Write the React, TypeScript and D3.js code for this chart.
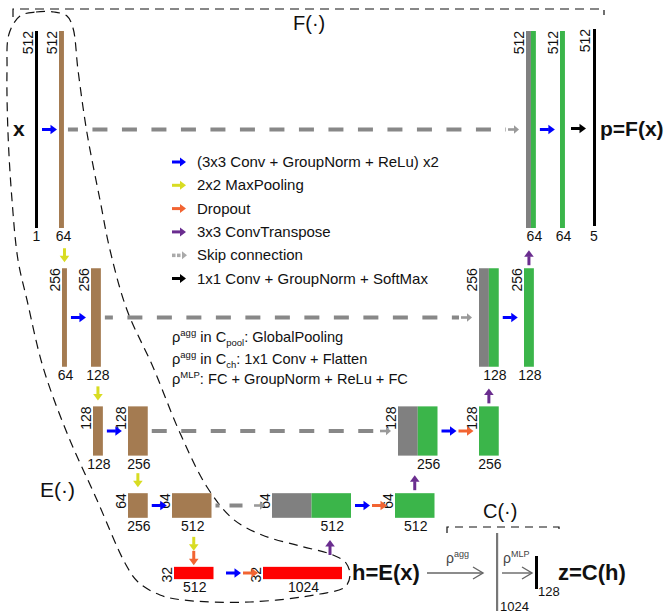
import React from "react";
import * as d3 from "d3";

// ---------- data ----------
const levelSpatial = [512, 256, 128, 64, 32];
const encoderInLabels = ["1", "64", "128", "256", "512"];
const encoderInChannels = [1, 64, 128, 256, 512];
const encoderOutChannels = [64, 128, 256, 512, 1024];
const decoderConcatChannels = [64, 128, 256, 512];
const decoderOutChannels = [64, 128, 256, 512];
const outputClasses = 5;
const latentDim = 1024;
const embedDim = 128;
const legendLabels = [
  "(3x3 Conv + GroupNorm + ReLu) x2",
  "2x2 MaxPooling",
  "Dropout",
  "3x3 ConvTranspose",
  "Skip connection",
  "1x1 Conv + GroupNorm + SoftMax",
];
const legendKinds = ["blue", "yellow", "orange", "purple", "skip", "black"];

// ---------- styling / layout ----------
const COL: Record<string, string> = {
  blue: "#0000ff",
  yellow: "#d8dc22",
  orange: "#f26432",
  purple: "#6a2d8f",
  black: "#000000",
  skip: "#888888",
  skipHead: "#9a9a9a",
  brown: "#a47b51",
  green: "#3bb54a",
  gray: "#808080",
  red: "#ff0000",
};
const FONT = "'Liberation Sans', Arial, Helvetica, sans-serif";

const wScale = d3.scaleLinear().domain([0, 1024]).range([0, 79]);
const hScale = d3.scaleLinear().domain([0, 512]).range([0, 197]);
const levelY = [129.5, 317.5, 431, 505.5, 573];
const encX = [
  [35, 59],
  [62, 91],
  [93, 128],
  [128, 172],
  [174, 263],
];
const decX = [
  [526, 560],
  [479, 524],
  [398, 479],
  [272, 395],
];
const outLineX = 593;

const eOutline: [number, number][] = [
  [20, 16], [36, 12], [54, 12], [67, 16], [73, 28], [78, 70], [87, 133],
  [100, 200], [110, 250], [127, 310], [153, 367], [180, 433], [207, 487],
  [233, 519], [262, 535], [300, 546], [333, 555], [346, 563], [350, 575],
  [345, 587], [320, 594], [250, 602], [183, 600], [160, 595], [138, 582],
  [125, 563], [97, 500], [67, 433], [43, 367], [27, 300], [18, 260],
  [12, 200], [8, 133], [7, 70], [9, 34],
];

function Arrow({ x1, y1, x2, y2, color, sw = 3, hl = 6.5, hw = 4.8 }: any) {
  const dx = x2 - x1, dy = y2 - y1;
  const len = Math.hypot(dx, dy);
  const ux = dx / len, uy = dy / len;
  const px = -uy, py = ux;
  const bx = x2 - ux * hl, by = y2 - uy * hl;
  const pts = [
    [x2, y2],
    [bx + px * hw, by + py * hw],
    [bx - px * hw, by - py * hw],
  ];
  return (
    <g>
      <line x1={x1} y1={y1} x2={bx + ux * 0.5} y2={by + uy * 0.5} stroke={color} strokeWidth={sw} />
      <polygon points={pts.map((p) => p.join(",")).join(" ")} fill={color} />
    </g>
  );
}

function OpenArrow({ x1, x2, y }: any) {
  return (
    <g stroke="#666" strokeWidth={1.4} fill="none">
      <line x1={x1} y1={y} x2={x2} y2={y} />
      <polyline points={`${x2 - 10},${y - 6} ${x2},${y} ${x2 - 10},${y + 6}`} />
    </g>
  );
}

function VLabel({ x, y, text }: any) {
  return (
    <text transform={`translate(${x},${y}) rotate(-90)`} textAnchor="end" fontSize={14}>
      {text}
    </text>
  );
}

function Skip({ x1, x2, y, dash = "15,14.5", offset = 0 }: any) {
  return (
    <g>
      <line x1={x1} y1={y} x2={x2} y2={y} stroke={COL.skip} strokeWidth={4.2}
        strokeDasharray={dash} strokeDashoffset={offset} />
    </g>
  );
}

export default function App() {
  const els: React.ReactNode[] = [];
  const top = (l: number) => levelY[l] - hScale(levelSpatial[l]) / 2;
  const bot = (l: number) => levelY[l] + hScale(levelSpatial[l]) / 2;
  const hh = (l: number) => hScale(levelSpatial[l]);

  // encoder
  for (let l = 0; l < 5; l++) {
    const [xa, xb] = encX[l];
    const fill = l === 4 ? COL.red : COL.brown;
    const wa = l === 0 ? 3 : wScale(encoderInChannels[l]);
    const wb = wScale(encoderOutChannels[l]);
    els.push(
      <g key={"enc" + l}>
        <rect x={xa} y={top(l)} width={wa} height={hh(l)} fill={l === 0 ? COL.black : fill} />
        <rect x={xb} y={top(l)} width={wb} height={hh(l)} fill={fill} />
        <VLabel x={xa - 2} y={top(l)} text={levelSpatial[l]} />
        <VLabel x={xb - 2} y={top(l)} text={levelSpatial[l]} />
        <text x={xa + wa / 2 + (l === 0 ? 0 : 1)} y={bot(l) + 13} textAnchor="middle" fontSize={14}>
          {encoderInLabels[l]}
        </text>
        <text x={xb + wb / 2 + (l < 2 ? 2 : 1)} y={bot(l) + 13} textAnchor="middle" fontSize={14}>
          {encoderOutChannels[l]}
        </text>
      </g>
    );
    // horizontal conv arrows
    const ax1 = xa + wa + 4;
    if (l < 4) {
      els.push(<Arrow key={"eb" + l} x1={ax1} y1={levelY[l]} x2={ax1 + 15} y2={levelY[l]} color={COL.blue} />);
    } else {
      els.push(<Arrow key={"eb" + l} x1={226} y1={levelY[l]} x2={241} y2={levelY[l]} color={COL.blue} />);
      els.push(<Arrow key={"eo" + l} x1={243} y1={levelY[l]} x2={258} y2={levelY[l]} color={COL.orange} />);
    }
    // down arrows
    if (l < 4) {
      const nx = encX[l + 1][0] + wScale(encoderInChannels[l + 1]) / 2;
      const y2 = top(l + 1) - (l === 3 ? 16 : 6);
      els.push(<Arrow key={"ey" + l} x1={nx} y1={y2 - 14} x2={nx} y2={y2} color={COL.yellow} />);
      if (l === 3) {
        els.push(<Arrow key={"eyo"} x1={nx} y1={top(4) - 16} x2={nx} y2={top(4) - 1.5} color={COL.orange} />);
      }
    }
  }

  // decoder
  for (let l = 0; l < 4; l++) {
    const [xc, xo] = decX[l];
    const w = wScale(decoderConcatChannels[l]);
    const wo = wScale(decoderOutChannels[l]);
    els.push(
      <g key={"dec" + l}>
        <rect x={xc} y={top(l)} width={w} height={hh(l)} fill={COL.gray} />
        <rect x={xc + w} y={top(l)} width={w} height={hh(l)} fill={COL.green} />
        <rect x={xo} y={top(l)} width={wo} height={hh(l)} fill={COL.green} />
        <VLabel x={xc - 2} y={top(l)} text={levelSpatial[l]} />
        <VLabel x={xo - 2} y={top(l)} text={levelSpatial[l]} />
        <text x={xc + w * 1.5 + 1} y={bot(l) + 13} textAnchor="middle" fontSize={14}>
          {decoderConcatChannels[l]}
        </text>
        <text x={xo + wo / 2 + 1} y={bot(l) + 13} textAnchor="middle" fontSize={14}>
          {decoderOutChannels[l]}
        </text>
      </g>
    );
    const ax1 = xc + 2 * w + 4;
    els.push(<Arrow key={"db" + l} x1={ax1} y1={levelY[l]} x2={ax1 + 15} y2={levelY[l]} color={COL.blue} />);
    if (l >= 2) {
      els.push(<Arrow key={"do" + l} x1={ax1 + 17} y1={levelY[l]} x2={ax1 + 32} y2={levelY[l]} color={COL.orange} />);
    }
    // skip connection
    const sx1 = encX[l][1] + wScale(encoderOutChannels[l]) + 4;
    const headEnd = xc - 7;
    const offs = [5, 7, 0, 9];
    const dashes = ["15,14.5", "15,14.5", "15,14.5", "13,10"];
    els.push(<Skip key={"sk" + l} x1={sx1} x2={headEnd - 13} y={levelY[l]} dash={dashes[l]} offset={offs[l]} />);
    els.push(
      <Arrow key={"skh" + l} x1={headEnd - 11} y1={levelY[l]} x2={headEnd} y2={levelY[l]}
        color={COL.skipHead} sw={2.6} hl={5} hw={4.2} />
    );
    // up arrows (transpose conv)
    const upX = l === 3 ? 330 : decX[l + 1][1] + wScale(decoderOutChannels[l + 1]) / 2;
    const upStart = l === 3 ? 555 : top(l + 1) - 3;
    els.push(<Arrow key={"dp" + l} x1={upX} y1={upStart} x2={upX} y2={upStart - 15} color={COL.purple} />);
  }

  // output
  const oTop = top(0) - 2;
  els.push(
    <g key="out">
      <rect x={outLineX} y={oTop} width={3} height={hh(0)} fill={COL.black} />
      <VLabel x={outLineX - 3} y={oTop} text={levelSpatial[0]} />
      <text x={outLineX + 1} y={bot(0) + 13} textAnchor="middle" fontSize={14}>{outputClasses}</text>
      <Arrow x1={571} y1={levelY[0] - 1} x2={586} y2={levelY[0] - 1} color={COL.black} />
    </g>
  );

  const eLine = d3.line().curve(d3.curveCatmullRomClosed.alpha(0.5))(eOutline) || "";

  return (
    <svg width={667} height={614} viewBox="0 0 667 614"
      style={{ position: "absolute", left: 0, top: 0, background: "#fff" }}
      fontFamily={FONT} fill="#111">
      <rect width={667} height={614} fill="#fff" />
      {/* F bracket */}
      <path d="M13,17 L13,9 L604,9 L604,15" fill="none" stroke="#111" strokeWidth={1.2} strokeDasharray="9,6" />
      <text x={293} y={30} fontSize={20} fill="#111">F(·)</text>
      {/* E outline */}
      <path d={eLine} fill="none" stroke="#111" strokeWidth={1.2} strokeDasharray="9,6" />
      <text x={40} y={497} fontSize={21} fill="#111">E(·)</text>

      {els}

      {/* x, p labels */}
      <text x={13} y={136} fontSize={21} fontWeight="bold">x</text>
      <text x={600} y={136} fontSize={21} fontWeight="bold">p=F(x)</text>

      {/* legend */}
      {legendLabels.map((lab, i) => {
        const y = 162 + i * 23.3;
        const k = legendKinds[i];
        return (
          <g key={"lg" + i}>
            {k === "skip" ? (
              <g>
                <rect x={172} y={y - 1.6} width={3.5} height={3.5} fill="#aaa" />
                <rect x={177} y={y - 1.6} width={3.5} height={3.5} fill="#aaa" />
                <polygon points={`${182},${y - 4} ${187},${y} ${182},${y + 4}`} fill="#aaa" />
              </g>
            ) : (
              <Arrow x1={172} y1={y} x2={186} y2={y} color={COL[k]} sw={3} hl={6} hw={4.5} />
            )}
            <text x={197} y={y + 5} fontSize={15}>{lab}</text>
          </g>
        );
      })}

      {/* rho descriptions */}
      <g fontSize={14.6}>
        <text x={172} y={342}>
          ρ<tspan fontSize={9.5} dy={-6}>agg</tspan>
          <tspan dy={6}> in C</tspan>
          <tspan fontSize={9.5} dy={4}>pool</tspan>
          <tspan dy={-4}>: GlobalPooling</tspan>
        </text>
        <text x={172} y={364}>
          ρ<tspan fontSize={9.5} dy={-6}>agg</tspan>
          <tspan dy={6}> in C</tspan>
          <tspan fontSize={9.5} dy={4}>ch</tspan>
          <tspan dy={-4}>: 1x1 Conv + Flatten</tspan>
        </text>
        <text x={172} y={384}>
          ρ<tspan fontSize={9.5} dy={-6}>MLP</tspan>
          <tspan dy={6}>: FC + GroupNorm + ReLu + FC</tspan>
        </text>
      </g>

      {/* h, C part */}
      <text x={352} y={580} fontSize={22} fontWeight="bold">h=E(x)</text>
      <OpenArrow x1={427} x2={483} y={573} />
      <text x={446} y={563} fontSize={14} fill="#444">
        ρ<tspan fontSize={9} dy={-6}>agg</tspan>
      </text>
      <rect x={496} y={533} width={2.2} height={78} fill="#777" />
      <text x={500} y={611} fontSize={13}>{latentDim}</text>
      <OpenArrow x1={502} x2={532} y={573} />
      <text x={503} y={563} fontSize={14} fill="#444">
        ρ<tspan fontSize={9} dy={-6}>MLP</tspan>
      </text>
      <rect x={535} y={556} width={3} height={33} fill="#000" />
      <text x={538} y={596} fontSize={13}>{embedDim}</text>
      <text x={558} y={580} fontSize={22} fontWeight="bold">z=C(h)</text>
      <path d="M447,533 L447,527 L559,527 L559,533" fill="none" stroke="#111" strokeWidth={1.2} strokeDasharray="8,6" />
      <text x={483} y={518} fontSize={20}>C(·)</text>
    </svg>
  );
}
